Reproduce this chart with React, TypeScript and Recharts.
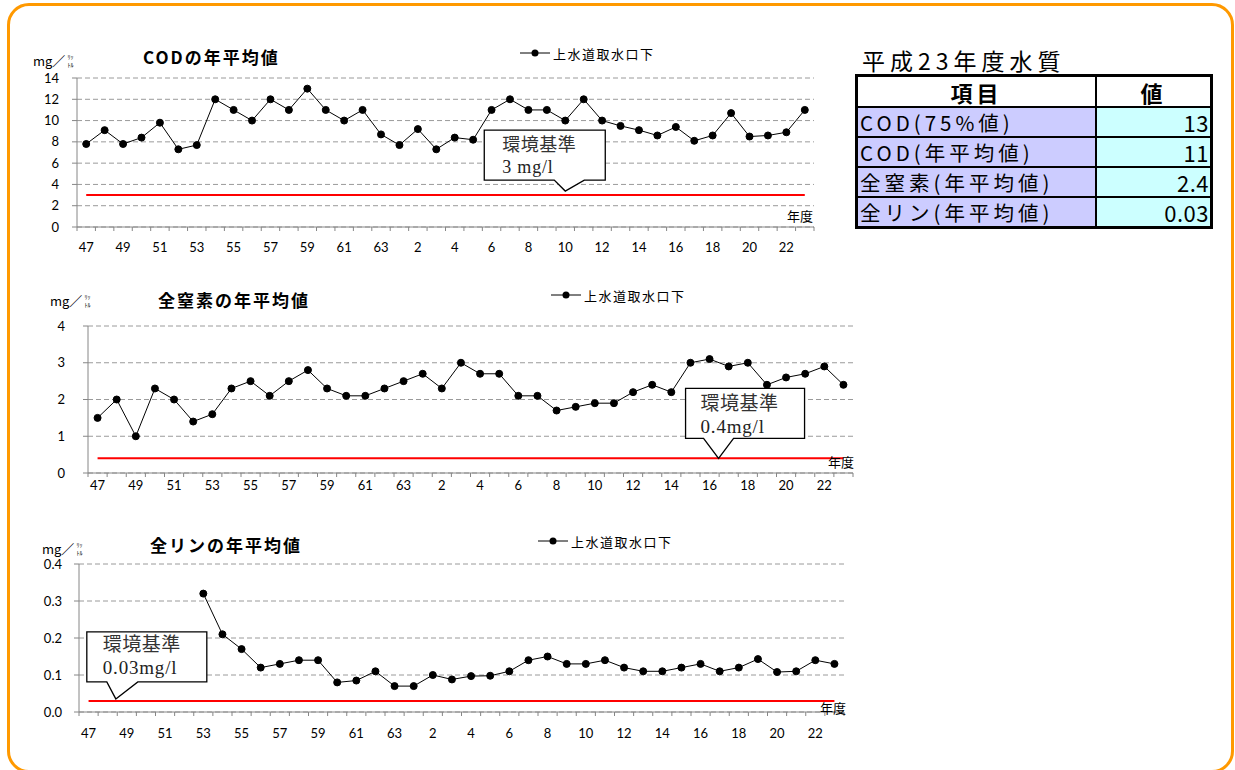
import { CartesianGrid, Legend, Line, LineChart, ReferenceDot, XAxis, YAxis } from 'recharts'

// 年度: 昭和47〜63, 平成元〜23
const years = [
  '47', '48', '49', '50', '51', '52', '53', '54', '55', '56', '57', '58', '59', '60', '61', '62', '63',
  '元', '2', '3', '4', '5', '6', '7', '8', '9', '10', '11', '12', '13', '14', '15', '16', '17', '18', '19', '20', '21', '22', '23',
]

const codValues = [
  7.8, 9.1, 7.8, 8.4, 9.8, 7.3, 7.7, 12, 11, 10, 12, 11, 13, 11, 10, 11, 8.7,
  7.7, 9.2, 7.3, 8.4, 8.2, 11, 12, 11, 11, 10, 12, 10, 9.5, 9.1, 8.6, 9.4, 8.1, 8.6, 10.7, 8.5, 8.6, 8.9, 11,
]
const nitrogenValues = [
  1.5, 2.0, 1.0, 2.3, 2.0, 1.4, 1.6, 2.3, 2.5, 2.1, 2.5, 2.8, 2.3, 2.1, 2.1, 2.3, 2.5,
  2.7, 2.3, 3.0, 2.7, 2.7, 2.1, 2.1, 1.7, 1.8, 1.9, 1.9, 2.2, 2.4, 2.2, 3.0, 3.1, 2.9, 3.0, 2.4, 2.6, 2.7, 2.9, 2.4,
]
const phosphorusValues = [
  null, null, null, null, null, null, 0.32, 0.21, 0.17, 0.12, 0.13, 0.14, 0.14, 0.08, 0.085, 0.11, 0.07,
  0.07, 0.1, 0.088, 0.097, 0.098, 0.11, 0.14, 0.15, 0.13, 0.13, 0.14, 0.12, 0.11, 0.11, 0.12, 0.13, 0.11, 0.12, 0.143, 0.108, 0.11, 0.14, 0.13,
]

const codStandard = 3
const nitrogenStandard = 0.4
const phosphorusStandard = 0.03

const codTicks = [0, 2, 4, 6, 8, 10, 12, 14]
const nitrogenTicks = [0, 1, 2, 3, 4]
const phosphorusTicks = [0, 0.1, 0.2, 0.3, 0.4]

const tableRows = [
  { item: 'COD(75%値)', value: '13' },
  { item: 'COD(年平均値)', value: '11' },
  { item: '全窒素(年平均値)', value: '2.4' },
  { item: '全リン(年平均値)', value: '0.03' },
]

const seriesName = '上水道取水口下'
const gothic = "'Noto Sans CJK JP', sans-serif"
const axisGray = '#868686'

type Callout = {
  x: string
  dx: number
  dy: number
  box: [number, number, number, number]
  base: [number, number]
  lines: [string, string]
  textX: number
  textY: [number, number]
  fontSize: number
}

type ChartProps = {
  top: number
  width: number
  height: number
  margin: { top: number; right: number; bottom: number; left: number }
  yWidth: number
  values: (number | null)[]
  standard: number
  ticks: number[]
  tickMargin: number
  decimals: number
  labelDy: number
  legendPos: { left: number; top: number }
  callout: Callout
}

function YearTick(props: any) {
  const { x, y, payload, index, step, labelDy, lastIndex } = props
  const half = step / 2
  return (
    <g>
      <line x1={x - half} y1={y} x2={x - half} y2={y + 4} stroke={axisGray} />
      {index === lastIndex && <line x1={x + half} y1={y} x2={x + half} y2={y + 4} stroke={axisGray} />}
      {index % 2 === 0 && (
        <text x={x} y={y + labelDy} textAnchor="middle" dominantBaseline="central" fontSize={13} fontFamily="Lato" fill="#000">
          {payload.value}
        </text>
      )}
    </g>
  )
}

function LegendContent() {
  return (
    <div style={{ display: 'flex', alignItems: 'center', height: 16, fontFamily: gothic }}>
      <svg width={30} height={10}>
        <line x1={0} y1={5} x2={30} y2={5} stroke="#000" />
        <circle cx={15} cy={5} r={3.5} fill="#000" />
      </svg>
      <span style={{ marginLeft: 3, fontSize: 13, letterSpacing: 1.5, whiteSpace: 'nowrap' }}>{seriesName}</span>
    </div>
  )
}

function WaterChart(p: ChartProps) {
  const rows = years.map((year, i) => ({ year, value: p.values[i], std: p.standard }))
  const plotWidth = p.width - p.margin.left - p.margin.right - p.yWidth
  const step = plotWidth / years.length
  const c = p.callout

  const calloutShape = (s: any) => {
    const tx = s.cx + c.dx
    const ty = s.cy + c.dy
    const [l, t, r, b] = c.box
    const d = `M${tx + l},${ty + t} H${tx + r} V${ty + b} H${tx + c.base[1]} L${tx},${ty} L${tx + c.base[0]},${ty + b} H${tx + l} Z`
    return (
      <g>
        <path d={d} fill="#fff" stroke="#000" strokeWidth={1.3} />
        <text x={tx + c.textX} y={ty + c.textY[0]} dominantBaseline="central" fontSize={c.fontSize} letterSpacing={0.5} fill="#333" fontFamily="'Noto Sans CJK JP', serif">
          {c.lines[0]}
        </text>
        <text x={tx + c.textX} y={ty + c.textY[1]} dominantBaseline="central" fontSize={c.fontSize} letterSpacing={0.8} fill="#222" fontFamily="'Liberation Serif', serif">
          {c.lines[1]}
        </text>
      </g>
    )
  }

  return (
    <div style={{ position: 'absolute', left: 0, top: p.top }}>
      <LineChart width={p.width} height={p.height} data={rows} margin={p.margin}>
        <CartesianGrid vertical={false} stroke="#9a9a9a" strokeDasharray="5 3" />
        <XAxis
          dataKey="year"
          scale="point"
          interval={0}
          height={30}
          padding={{ left: step / 2, right: step / 2 }}
          tickLine={false}
          tickSize={0}
          tickMargin={0}
          axisLine={{ stroke: axisGray }}
          tick={(t: any) => <YearTick {...t} step={step} labelDy={p.labelDy} lastIndex={years.length - 1} />}
        />
        <YAxis
          width={p.yWidth}
          domain={[p.ticks[0], p.ticks[p.ticks.length - 1]]}
          ticks={p.ticks}
          interval={0}
          tickSize={5}
          tickMargin={p.tickMargin}
          axisLine={{ stroke: axisGray }}
          tickLine={{ stroke: axisGray }}
          tick={{ fill: '#000', fontSize: 13, fontFamily: 'Lato' }}
          tickFormatter={(v: number) => v.toFixed(p.decimals)}
        />
        <Legend
          layout="horizontal"
          verticalAlign="middle"
          align="center"
          content={() => <LegendContent />}
          wrapperStyle={{ left: p.legendPos.left, top: p.legendPos.top, width: 'auto', height: 'auto' }}
        />
        <Line dataKey="std" stroke="#ff0000" strokeWidth={2} dot={false} legendType="none" isAnimationActive={false} />
        <Line
          dataKey="value"
          name={seriesName}
          stroke="#000"
          strokeWidth={1}
          dot={{ r: 3.5, fill: '#000', stroke: '#000' }}
          isAnimationActive={false}
        />
        <ReferenceDot x={c.x} y={p.standard} r={0} ifOverflow="visible" shape={calloutShape} />
      </LineChart>
    </div>
  )
}

function UnitLabel({ left, top }: { left: number; top: number }) {
  return (
    <div style={{ position: 'absolute', left, top, display: 'flex', alignItems: 'center', fontSize: 13, fontFamily: gothic }}>
      <span>mg／</span>
      <span style={{ display: 'inline-flex', flexDirection: 'column', fontSize: 6, lineHeight: '8px', marginLeft: 2 }}>
        <span>ﾘｯ</span>
        <span>ﾄﾙ</span>
      </span>
    </div>
  )
}

function Title({ left, top, text }: { left: number; top: number; text: string }) {
  return (
    <div style={{ position: 'absolute', left, top, fontSize: 17, lineHeight: '20px', fontWeight: 700, letterSpacing: 2, fontFamily: gothic, whiteSpace: 'nowrap' }}>
      {text}
    </div>
  )
}

function YearLabel({ left, top }: { left: number; top: number }) {
  return <div style={{ position: 'absolute', left, top, fontSize: 13, lineHeight: '16px', fontFamily: gothic }}>年度</div>
}

function QualityTable() {
  const cell = { display: 'flex', alignItems: 'center', fontSize: 20.5, lineHeight: '26px', letterSpacing: 4, whiteSpace: 'nowrap' as const }
  return (
    <>
      <div style={{ position: 'absolute', left: 862, top: 46, fontSize: 23, lineHeight: '28px', letterSpacing: 5, fontFamily: gothic }}>平成23年度水質</div>
      <div
        style={{
          position: 'absolute', left: 855, top: 74, width: 358, height: 155, boxSizing: 'border-box',
          border: '3px solid #000', background: '#000', display: 'grid',
          gridTemplateColumns: '237px 113px', gridTemplateRows: '29px 28px 28px 28px 28px',
          columnGap: 2, rowGap: 2, fontFamily: gothic,
        }}
      >
        <div style={{ ...cell, background: '#fff', justifyContent: 'center', fontWeight: 700, fontSize: 22 }}>項目</div>
        <div style={{ ...cell, background: '#fff', justifyContent: 'center', fontWeight: 700, fontSize: 22 }}>値</div>
        {tableRows.map((row) => [
          <div key={row.item} style={{ ...cell, background: '#ccccff', paddingLeft: 2 }}>{row.item}</div>,
          <div key={row.item + 'v'} style={{ ...cell, background: '#ccffff', justifyContent: 'flex-end', letterSpacing: 0.5, paddingRight: 1, fontSize: 22 }}>{row.value}</div>,
        ])}
      </div>
    </>
  )
}

export default function App() {
  return (
    <div style={{ position: 'absolute', left: 0, top: 0, width: 1235, height: 770, background: '#fff', overflow: 'hidden', fontFamily: gothic }}>
      <div style={{ position: 'absolute', left: 7, top: 3, width: 1227, height: 770, boxSizing: 'border-box', border: '3.5px solid #ff9900', borderRadius: 22 }} />

      <WaterChart
        top={0}
        width={830}
        height={260}
        margin={{ top: 78, right: 16, bottom: 3, left: 0 }}
        yWidth={77}
        values={codValues}
        standard={codStandard}
        ticks={codTicks}
        tickMargin={13}
        decimals={0}
        labelDy={20}
        legendPos={{ left: 520, top: 45 }}
        callout={{ x: '10', dx: 0, dy: -4, box: [-81, -61, 40, -11], base: [-11, 19], lines: ['環境基準', '3 mg/l'], textX: -63, textY: [-48, -24], fontSize: 18 }}
      />
      <Title left={143} top={47} text="CODの年平均値" />
      <UnitLabel left={33} top={51} />
      <YearLabel left={787} top={208} />

      <WaterChart
        top={260}
        width={870}
        height={260}
        margin={{ top: 66, right: 17, bottom: 17, left: 0 }}
        yWidth={88}
        values={nitrogenValues}
        standard={nitrogenStandard}
        ticks={nitrogenTicks}
        tickMargin={18}
        decimals={0}
        labelDy={12}
        legendPos={{ left: 551, top: 27 }}
        callout={{ x: '16', dx: 9, dy: 0, box: [-33, -70, 86, -20], base: [-15, 15], lines: ['環境基準', '0.4mg/l'], textX: -18, textY: [-57, -32], fontSize: 19 }}
      />
      <Title left={158} top={290} text="全窒素の年平均値" />
      <UnitLabel left={50} top={291} />
      <YearLabel left={828} top={454} />

      <WaterChart
        top={520}
        width={860}
        height={250}
        margin={{ top: 44, right: 16, bottom: 28, left: 0 }}
        yWidth={79}
        values={phosphorusValues}
        standard={phosphorusStandard}
        ticks={phosphorusTicks}
        tickMargin={12}
        decimals={1}
        labelDy={21}
        legendPos={{ left: 538, top: 13 }}
        callout={{ x: '49', dx: -11, dy: -2, box: [-29, -67, 91, -17], base: [-9, 22], lines: ['環境基準', '0.03mg/l'], textX: -13, textY: [-56, -31], fontSize: 19 }}
      />
      <Title left={150} top={535} text="全リンの年平均値" />
      <UnitLabel left={42} top={539} />
      <YearLabel left={820} top={700} />

      <QualityTable />
    </div>
  )
}
